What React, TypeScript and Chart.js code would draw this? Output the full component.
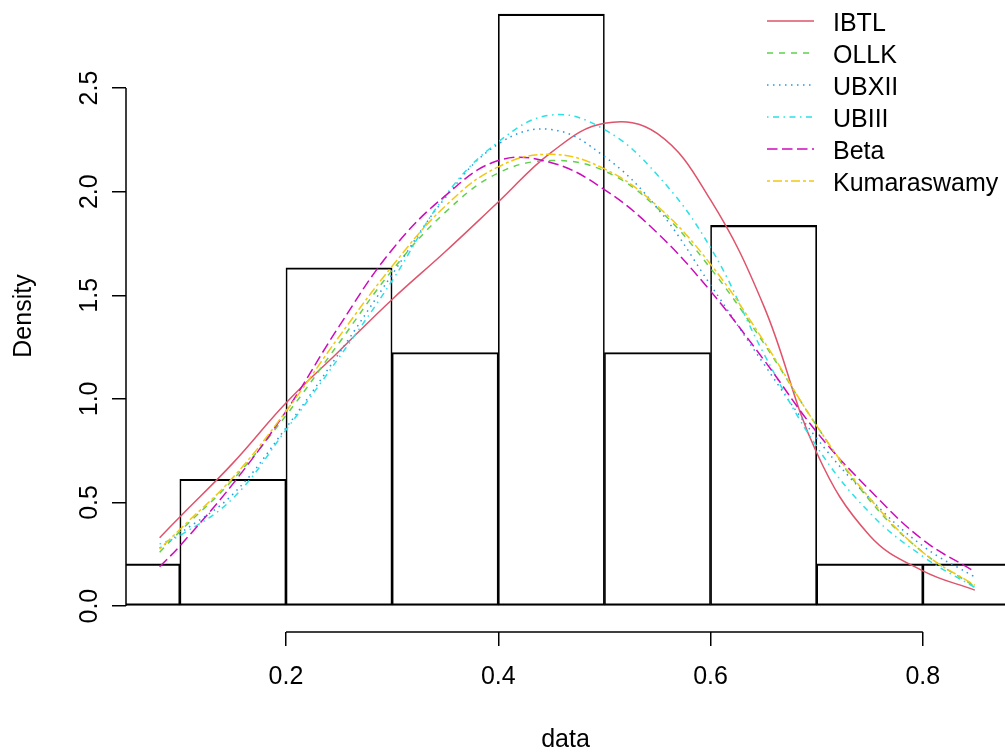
import { useEffect, useRef } from "react";
import { Chart, registerables } from "chart.js";

Chart.register(...registerables);

// Histogram (density scale)
const binStarts = [0.0, 0.1, 0.2, 0.3, 0.4, 0.5, 0.6, 0.7, 0.8];
const binWidth = 0.1;
const densities = [0.204, 0.612, 1.633, 1.224, 2.857, 1.224, 1.837, 0.204, 0.204];

// Fitted density curves, read at these x positions
const gridX = [0.081, 0.1, 0.15, 0.2, 0.25, 0.3, 0.35, 0.4, 0.45, 0.5, 0.55, 0.6, 0.65, 0.7, 0.75, 0.8, 0.849];
const ibtl = [0.33, 0.43, 0.69, 0.98, 1.23, 1.48, 1.71, 1.95, 2.19, 2.33, 2.28, 1.96, 1.45, 0.74, 0.34, 0.17, 0.077];
const ollk = [0.26, 0.36, 0.61, 0.92, 1.27, 1.62, 1.9, 2.09, 2.15, 2.1, 1.92, 1.63, 1.27, 0.87, 0.51, 0.26, 0.095];
const ubxii = [0.28, 0.35, 0.54, 0.86, 1.22, 1.6, 1.97, 2.23, 2.3, 2.17, 1.92, 1.55, 1.17, 0.81, 0.52, 0.29, 0.14];
const ubiii = [0.3, 0.34, 0.52, 0.85, 1.2, 1.57, 1.98, 2.24, 2.37, 2.3, 2.08, 1.73, 1.22, 0.77, 0.45, 0.24, 0.09];
const beta = [0.19, 0.29, 0.59, 0.94, 1.35, 1.72, 1.98, 2.15, 2.14, 2.01, 1.8, 1.52, 1.19, 0.84, 0.56, 0.32, 0.166];
const kuma = [0.275, 0.37, 0.62, 0.94, 1.3, 1.64, 1.93, 2.12, 2.18, 2.11, 1.93, 1.65, 1.28, 0.87, 0.52, 0.26, 0.1];

const seriesNames = ["IBTL", "OLLK", "UBXII", "UBIII", "Beta", "Kumaraswamy"];
const seriesValues = [ibtl, ollk, ubxii, ubiii, beta, kuma];
const seriesColors = ["#DF536B", "#61D04F", "#2297E6", "#28E2E5", "#CD0BBC", "#F5C710"];
const seriesDashes = [[], [6, 6], [1.5, 4.5], [1.5, 4.5, 6, 4.5], [10.5, 4.5], [3, 3, 9, 3]];

const xTicks = [0.2, 0.4, 0.6, 0.8];
const yTicks = [0, 0.5, 1.0, 1.5, 2.0, 2.5];

const FONT = "'Liberation Sans', Arial, Helvetica, sans-serif";
const FONT_SIZE = 25;

const rAxesPlugin = {
  id: "rAxes",
  afterDraw(chart: any) {
    const { ctx, chartArea, scales } = chart;
    const xs = scales.x;
    const ys = scales.y;
    ctx.save();
    ctx.strokeStyle = "#000";
    ctx.lineWidth = 1.5;
    ctx.setLineDash([]);
    ctx.beginPath();
    ctx.moveTo(xs.getPixelForValue(xTicks[0]), chartArea.bottom);
    ctx.lineTo(xs.getPixelForValue(xTicks[xTicks.length - 1]), chartArea.bottom);
    ctx.moveTo(chartArea.left, ys.getPixelForValue(yTicks[0]));
    ctx.lineTo(chartArea.left, ys.getPixelForValue(yTicks[yTicks.length - 1]));
    ctx.stroke();
    ctx.restore();
  },
};

const rLegendPlugin = {
  id: "rLegend",
  afterDraw(chart: any) {
    const ctx = chart.ctx;
    ctx.save();
    ctx.font = `${FONT_SIZE}px ${FONT}`;
    ctx.textBaseline = "middle";
    ctx.textAlign = "left";
    ctx.fillStyle = "#000";
    const x0 = 767;
    const x1 = 814;
    const tx = 833;
    const top = 21;
    const step = 32;
    seriesNames.forEach((name, i) => {
      const ds = chart.data.datasets.find((d: any) => d.label === name);
      const yy = top + i * step;
      ctx.strokeStyle = ds.borderColor;
      ctx.lineWidth = ds.borderWidth;
      ctx.setLineDash(ds.borderDash || []);
      ctx.beginPath();
      ctx.moveTo(x0, yy);
      ctx.lineTo(x1, yy);
      ctx.stroke();
      ctx.setLineDash([]);
      ctx.fillText(name, tx, yy + 3);
    });
    ctx.restore();
  },
};

export default function App() {
  const ref = useRef<HTMLCanvasElement | null>(null);

  useEffect(() => {
    if (!ref.current) return;
    Chart.defaults.font.family = FONT;
    Chart.defaults.color = "#000";

    const lineSets = seriesNames.map((name, i) => ({
      type: "line" as const,
      label: name,
      data: gridX.map((x, j) => ({ x, y: seriesValues[i][j] })),
      borderColor: seriesColors[i],
      backgroundColor: seriesColors[i],
      borderWidth: 1.5,
      borderDash: seriesDashes[i],
      pointRadius: 0,
      tension: 0.4,
      fill: false,
      order: 6 - i,
    }));

    const histSet = {
      type: "bar" as const,
      label: "hist",
      data: binStarts.map((s, i) => ({ x: s + binWidth / 2, y: densities[i] })),
      backgroundColor: "rgba(0,0,0,0)",
      borderColor: "#000",
      borderWidth: { top: 1.5, bottom: 1.5, left: 1, right: 1 },
      borderSkipped: false,
      barPercentage: 1,
      categoryPercentage: 1,
      grouped: false,
      order: 10,
      clip: 0,
    };

    const chart = new Chart(ref.current, {
      type: "bar",
      data: { datasets: [...lineSets, histSet] as any },
      options: {
        responsive: false,
        maintainAspectRatio: false,
        animation: false,
        events: [],
        layout: { padding: 0 },
        plugins: { legend: { display: false }, tooltip: { enabled: false } },
        scales: {
          x: {
            type: "linear",
            min: 0.0493,
            max: 0.8774,
            offset: false,
            afterBuildTicks: (s: any) => {
              s.ticks = xTicks.map((v) => ({ value: v }));
            },
            afterFit: (s: any) => {
              s.height = 121;
              s.paddingLeft = 0;
              s.paddingRight = 0;
            },
            grid: {
              display: true,
              drawOnChartArea: false,
              drawTicks: true,
              tickLength: 14,
              color: "#000",
              lineWidth: 1.5,
              offset: false,
            },
            border: { display: false },
            ticks: {
              callback: (v: any) => Number(v).toFixed(1),
              font: { size: FONT_SIZE },
              color: "#000",
              padding: 16,
              minRotation: 0,
              maxRotation: 0,
              autoSkip: false,
            },
            title: {
              display: true,
              text: "data",
              font: { size: FONT_SIZE, lineHeight: 1 },
              color: "#000",
              padding: { top: 0, bottom: 0 },
            },
          },
          y: {
            type: "linear",
            min: -0.125,
            max: 2.925,
            afterBuildTicks: (s: any) => {
              s.ticks = yTicks.map((v) => ({ value: v }));
            },
            afterFit: (s: any) => {
              s.width = 126;
              s.paddingTop = 0;
              s.paddingBottom = 0;
            },
            grid: {
              display: true,
              drawOnChartArea: false,
              drawTicks: true,
              tickLength: 14,
              color: "#000",
              lineWidth: 1.5,
            },
            border: { display: false },
            ticks: {
              callback: (v: any) => Number(v).toFixed(1),
              font: { size: FONT_SIZE },
              color: "#000",
              padding: 5,
              minRotation: 90,
              maxRotation: 90,
              crossAlign: "center",
              autoSkip: false,
            },
            title: {
              display: true,
              text: "Density",
              font: { size: FONT_SIZE, lineHeight: 1 },
              color: "#000",
              padding: { top: 12, bottom: 0 },
            },
          },
        },
      } as any,
      plugins: [rAxesPlugin, rLegendPlugin],
    });

    return () => chart.destroy();
  }, []);

  return (
    <div style={{ position: "absolute", left: 0, top: 0, width: 1005, height: 753, background: "#fff" }}>
      <canvas ref={ref} width={1005} height={753} style={{ display: "block", width: 1005, height: 753 }} />
    </div>
  );
}
